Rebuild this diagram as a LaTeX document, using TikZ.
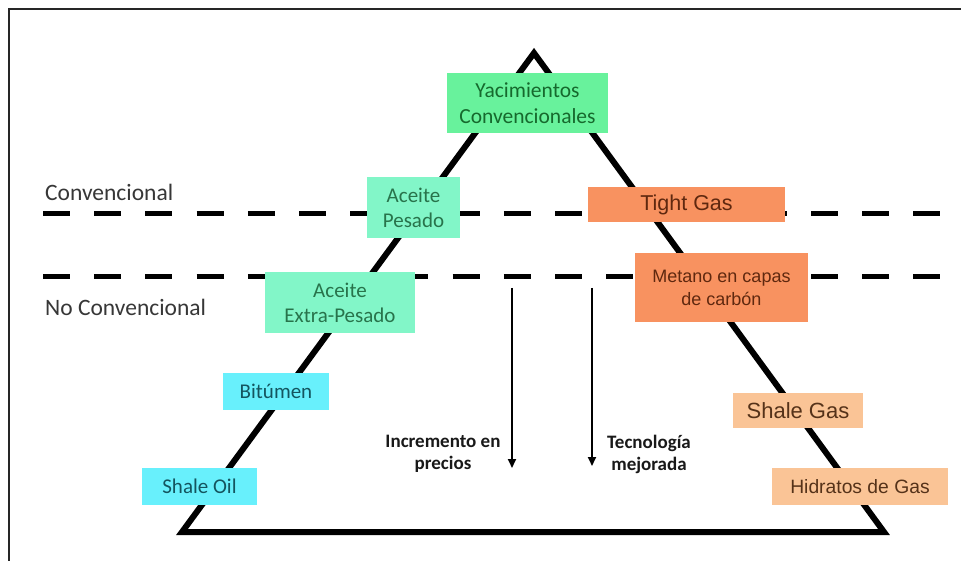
\documentclass[tikz,border=0pt]{standalone}
\usepackage{fontspec}
\setmainfont{Carlito}
\newfontfamily\arialf{Liberation Sans}
\usetikzlibrary{arrows.meta}
\definecolor{yacf}{RGB}{104,242,156}
\definecolor{yact}{RGB}{22,105,45}
\definecolor{mintf}{RGB}{130,246,200}
\definecolor{mintt}{RGB}{40,115,75}
\definecolor{cyanf}{RGB}{104,240,252}
\definecolor{cyant}{RGB}{20,85,95}
\definecolor{orf}{RGB}{248,146,96}
\definecolor{ort}{RGB}{95,40,15}
\definecolor{pchf}{RGB}{250,196,150}
\definecolor{pcht}{RGB}{85,50,25}
\definecolor{lblt}{RGB}{55,55,55}
\tikzset{
  bx/.style={inner sep=0pt, align=center, anchor=center},
  yacbox/.style={bx, fill=yacf, text=yact, font=\fontsize{21.5}{26}\selectfont},
  mintbox/.style={bx, fill=mintf, text=mintt, font=\fontsize{21}{25}\selectfont},
  cyanbox/.style={bx, fill=cyanf, text=cyant, font=\fontsize{21}{25}\selectfont},
  orbox/.style={bx, fill=orf, text=ort},
  pchbox/.style={bx, fill=pchf, text=pcht},
  side/.style={anchor=west, inner sep=0pt, text=lblt, font=\fontsize{23.5}{28}\selectfont},
  arrlbl/.style={inner sep=0pt, align=center, text=black!90, font=\bfseries\fontsize{19}{22}\selectfont},
  tri/.style={line width=6pt, line join=miter},
  sep/.style={line width=5pt, dash pattern=on 27pt off 24.2pt},
  arr/.style={line width=1.8pt, -{Triangle[length=9pt,width=8pt]}},
  frame/.style={line width=2.8pt, draw=black!85}
}
\begin{document}
\begin{tikzpicture}[x=1pt,y=-1pt]
\useasboundingbox[fill=white] (0,0) rectangle (961,561);
% frame
\coordinate (f1) at (9,561);
\coordinate (f2) at (9,9);
\coordinate (f3) at (961,9);
\draw[frame] (f1) -- (f2) -- (f3);
% triangle
\coordinate (apex) at (534,53);
\coordinate (bl) at (182,532);
\coordinate (br) at (884,532);
\draw[tri] (apex) -- (bl) -- (br) -- cycle;
% dashed separators
\coordinate (d1a) at (43,214);
\coordinate (d1b) at (940,214);
\coordinate (d2a) at (43,277);
\coordinate (d2b) at (940,277);
\draw[sep] (d1a) -- (d1b);
\draw[sep] (d2a) -- (d2b);
% side labels
\node[side] (conv) at (45,192) {Convencional};
\node[side] (noconv) at (45,307) {No Convencional};
% boxes
\node[yacbox, minimum width=161pt, minimum height=60pt] (yac) at (527.5,103) {Yacimientos\\Convencionales};
\node[mintbox, minimum width=93pt, minimum height=61pt] (ap) at (413.5,207.5) {Aceite\\Pesado};
\node[mintbox, minimum width=150pt, minimum height=61pt] (aep) at (340,302.5) {Aceite\\Extra-Pesado};
\node[cyanbox, minimum width=106pt, minimum height=37pt] (bit) at (276,391.5) {Bitúmen};
\node[cyanbox, minimum width=115pt, minimum height=37pt] (so) at (199.5,486.5) {Shale Oil};
\node[orbox, minimum width=197pt, minimum height=35pt, font=\arialf\fontsize{21.5}{25}\selectfont] (tg) at (686.5,204.5) {Tight Gas};
\node[orbox, minimum width=173pt, minimum height=69pt, font=\arialf\fontsize{18}{23}\selectfont] (met) at (721.5,287.5) {Metano en capas\\de carbón};
\node[pchbox, minimum width=130pt, minimum height=35pt, font=\arialf\fontsize{22}{25}\selectfont] (sg) at (798,410.5) {Shale Gas};
\node[pchbox, minimum width=176pt, minimum height=37pt, font=\arialf\fontsize{19.3}{23}\selectfont] (hg) at (860,486.5) {Hidratos de Gas};
% arrows
\coordinate (a1s) at (512,288);
\coordinate (a1e) at (512,468);
\coordinate (a2s) at (592,288);
\coordinate (a2e) at (592,466);
\draw[arr] (a1s) -- (a1e);
\draw[arr] (a2s) -- (a2e);
\node[arrlbl] (inc) at (443,454) {Incremento en\\precios};
\node[arrlbl] (tec) at (649,454) {Tecnología\\mejorada};
\end{tikzpicture}
\end{document}
